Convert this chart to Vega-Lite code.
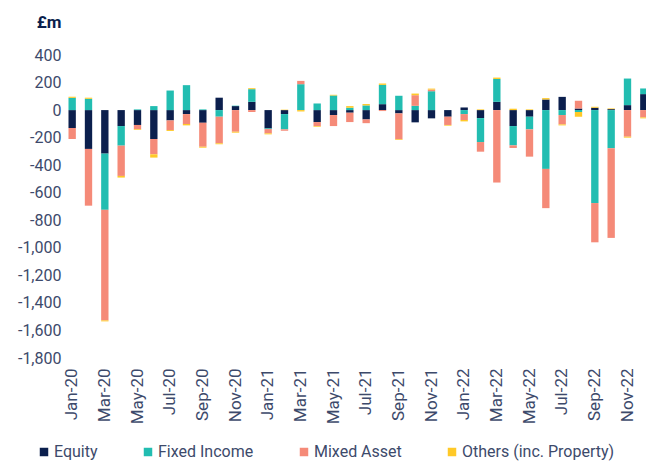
{
  "$schema": "https://vega.github.io/schema/vega-lite/v6.json",
  "width": 582,
  "height": 303,
  "autosize": {"type": "none"},
  "padding": {"left": 64, "top": 55, "right": 0, "bottom": 103},
  "background": "white",
  "config": {
    "view": {"stroke": null},
    "font": "Roboto",
    "axis": {"labelFont": "Roboto", "titleFont": "Roboto"},
    "legend": {"labelFont": "Roboto"}
  },
  "data": {
    "values": [
      {"m": "Jan-20", "Equity": -130, "Fixed Income": 89, "Mixed Asset": -80, "Others": 8},
      {"m": "Feb-20", "Equity": -282, "Fixed Income": 82, "Mixed Asset": -412, "Others": 8},
      {"m": "Mar-20", "Equity": -316, "Fixed Income": -408, "Mixed Asset": -803, "Others": -7},
      {"m": "Apr-20", "Equity": -116, "Fixed Income": -142, "Mixed Asset": -220, "Others": -12},
      {"m": "May-20", "Equity": -108, "Fixed Income": 5, "Mixed Asset": -31, "Others": -5},
      {"m": "Jun-20", "Equity": -210, "Fixed Income": 29, "Mixed Asset": -111, "Others": -24},
      {"m": "Jul-20", "Equity": -75, "Fixed Income": 142, "Mixed Asset": -70, "Others": -7},
      {"m": "Aug-20", "Equity": -29, "Fixed Income": 181, "Mixed Asset": -72, "Others": -10},
      {"m": "Sep-20", "Equity": -92, "Fixed Income": 5, "Mixed Asset": -174, "Others": -7},
      {"m": "Oct-20", "Equity": 90, "Fixed Income": -48, "Mixed Asset": -193, "Others": -7},
      {"m": "Nov-20", "Equity": 29, "Fixed Income": 3, "Mixed Asset": -157, "Others": -7},
      {"m": "Dec-20", "Equity": 60, "Fixed Income": 92, "Mixed Asset": -14, "Others": 7},
      {"m": "Jan-21", "Equity": -133, "Fixed Income": -5, "Mixed Asset": -31, "Others": -7},
      {"m": "Feb-21", "Equity": -29, "Fixed Income": -111, "Mixed Asset": -10, "Others": 3},
      {"m": "Mar-21", "Equity": 0, "Fixed Income": 188, "Mixed Asset": 24, "Others": -10},
      {"m": "Apr-21", "Equity": -87, "Fixed Income": 48, "Mixed Asset": -29, "Others": -5},
      {"m": "May-21", "Equity": -36, "Fixed Income": 106, "Mixed Asset": -80, "Others": 5},
      {"m": "Jun-21", "Equity": -19, "Fixed Income": 17, "Mixed Asset": -68, "Others": 12},
      {"m": "Jul-21", "Equity": -68, "Fixed Income": 34, "Mixed Asset": -27, "Others": 10},
      {"m": "Aug-21", "Equity": 43, "Fixed Income": 140, "Mixed Asset": -7, "Others": 10},
      {"m": "Sep-21", "Equity": -24, "Fixed Income": 104, "Mixed Asset": -188, "Others": -5},
      {"m": "Oct-21", "Equity": -89, "Fixed Income": 31, "Mixed Asset": 77, "Others": 12},
      {"m": "Nov-21", "Equity": -60, "Fixed Income": 137, "Mixed Asset": 12, "Others": 7},
      {"m": "Dec-21", "Equity": -48, "Fixed Income": 0, "Mixed Asset": -60, "Others": -5},
      {"m": "Jan-22", "Equity": 19, "Fixed Income": -29, "Mixed Asset": -43, "Others": -10},
      {"m": "Feb-22", "Equity": -58, "Fixed Income": -174, "Mixed Asset": -70, "Others": 5},
      {"m": "Mar-22", "Equity": 60, "Fixed Income": 166, "Mixed Asset": -526, "Others": 10},
      {"m": "Apr-22", "Equity": -116, "Fixed Income": -140, "Mixed Asset": -19, "Others": 10},
      {"m": "May-22", "Equity": -48, "Fixed Income": -92, "Mixed Asset": -198, "Others": 5},
      {"m": "Jun-22", "Equity": 77, "Fixed Income": -427, "Mixed Asset": -285, "Others": 10},
      {"m": "Jul-22", "Equity": 96, "Fixed Income": -36, "Mixed Asset": -68, "Others": -7},
      {"m": "Aug-22", "Equity": 12, "Fixed Income": -14, "Mixed Asset": 55, "Others": -34},
      {"m": "Sep-22", "Equity": 17, "Fixed Income": -675, "Mixed Asset": -285, "Others": 7},
      {"m": "Oct-22", "Equity": 7, "Fixed Income": -277, "Mixed Asset": -651, "Others": 5},
      {"m": "Nov-22", "Equity": 36, "Fixed Income": 193, "Mixed Asset": -193, "Others": -7},
      {"m": "Dec-22", "Equity": 116, "Fixed Income": 41, "Mixed Asset": -53, "Others": -7}
    ]
  },
  "transform": [
    {"fold": ["Equity", "Fixed Income", "Mixed Asset", "Others"], "as": ["series", "value"]}
  ],
  "mark": {"type": "bar"},
  "encoding": {
    "x": {
      "field": "m",
      "type": "ordinal",
      "sort": null,
      "scale": {"paddingInner": 0.55, "paddingOuter": 0.275, "range": [0, 588]},
      "axis": {
        "title": null,
        "values": ["Jan-20","Mar-20","May-20","Jul-20","Sep-20","Nov-20","Jan-21","Mar-21","May-21","Jul-21","Sep-21","Nov-21","Jan-22","Mar-22","May-22","Jul-22","Sep-22","Nov-22"],
        "labelAngle": -90,
        "labelAlign": "right",
        "labelBaseline": "middle",
        "labelFontSize": 17,
        "labelColor": "#3d4a6b",
        "labelPadding": 10,
        "ticks": false,
        "domain": false,
        "grid": false
      }
    },
    "y": {
      "field": "value",
      "type": "quantitative",
      "stack": "zero",
      "scale": {"domain": [-1800, 400], "nice": false},
      "axis": {
        "values": [400, 200, 0, -200, -400, -600, -800, -1000, -1200, -1400, -1600, -1800],
        "labelExpr": "replace(format(datum.value, ',.0f'), '\u2212', '-')",
        "labelFontSize": 16,
        "labelColor": "#3d4a6b",
        "labelPadding": 3,
        "ticks": false,
        "domain": false,
        "grid": false,
        "title": "£m",
        "titleAngle": 0,
        "titleAlign": "right",
        "titleBaseline": "middle",
        "titleX": -3,
        "titleY": -33,
        "titleFontSize": 17,
        "titleFontWeight": "bold",
        "titleColor": "#0b1f4d"
      }
    },
    "color": {
      "field": "series",
      "type": "nominal",
      "scale": {
        "domain": ["Equity", "Fixed Income", "Mixed Asset", "Others"],
        "range": ["#0b1f4d", "#22bdb1", "#f58a78", "#ffc928"]
      },
      "legend": {
        "title": null,
        "orient": "none",
        "direction": "horizontal",
        "legendX": -28,
        "legendY": 389,
        "symbolType": "square",
        "symbolSize": 72,
        "symbolStrokeWidth": 0,
        "labelFontSize": 16,
        "labelColor": "#3d4a6b",
        "labelOffset": 2,
        "columnPadding": 42,
        "labelLimit": 300,
        "labelExpr": "datum.label == 'Others' ? 'Others (inc. Property)' : datum.label"
      }
    },
    "order": {"field": "series", "sort": "ascending"}
  }
}
